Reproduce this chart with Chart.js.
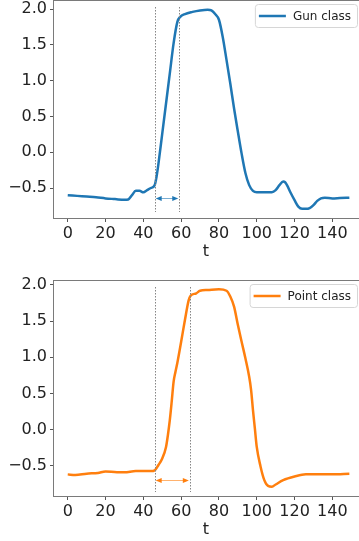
<!DOCTYPE html>
<html>
<head>
<meta charset="utf-8">
<script src="https://cdn.jsdelivr.net/npm/chart.js@4.4.1/dist/chart.umd.min.js"></script>
<style>
  html, body { margin: 0; padding: 0; background: #fff; overflow: hidden; }
  .box { position: absolute; left: 0; width: 359px; }
  #top { top: 0; height: 270px; }
  #bottom { top: 270px; height: 271px; }
</style>
</head>
<body>
<div class="box" id="top"><canvas id="gunChart"></canvas></div>
<div class="box" id="bottom"><canvas id="pointChart"></canvas></div>
<script>
// tick labels
const xTicks = [0, 20, 40, 60, 80, 100, 120, 140];
const yTicks = [-0.5, 0, 0.5, 1, 1.5, 2];

// Gun class
const gunT = [0, 5, 10, 15, 20, 25, 30, 32, 34, 36, 38, 40, 42, 44, 46, 47, 48, 50, 52, 54, 56, 58, 59.5, 62, 66, 70, 74, 76, 78, 80, 82, 84, 86, 88, 90, 92, 94, 96, 98, 100, 104, 108, 110, 112, 114, 115, 116, 118, 120, 122, 124, 126, 128, 130, 132, 134, 136, 140, 144, 149];
const gunV = [-0.60, -0.61, -0.62, -0.63, -0.645, -0.655, -0.665, -0.66, -0.60, -0.54, -0.54, -0.56, -0.53, -0.50, -0.46, -0.34, -0.16, 0.26, 0.68, 1.10, 1.52, 1.82, 1.89, 1.93, 1.96, 1.98, 1.99, 1.98, 1.93, 1.85, 1.61, 1.29, 0.96, 0.61, 0.29, -0.02, -0.29, -0.46, -0.54, -0.56, -0.56, -0.56, -0.53, -0.46, -0.41, -0.42, -0.46, -0.57, -0.67, -0.76, -0.79, -0.79, -0.78, -0.74, -0.68, -0.645, -0.635, -0.645, -0.64, -0.635];
const gunMarks = [46, 59];
const gunMarkRange = [-0.835, 2.028];
const gunArrowY = -0.635;

// Point class
const pointT = [0, 4, 10, 16, 20, 26, 30, 36, 40, 44, 46, 48, 50, 52, 53, 54, 55, 56, 57, 58, 60, 62, 64, 65, 68, 70, 74, 80, 84, 86, 88, 90, 92, 94, 96, 97, 98, 99, 100, 102, 104, 106, 108, 110, 114, 120, 126, 130, 140, 149];
const pointV = [-0.62, -0.63, -0.61, -0.60, -0.58, -0.59, -0.59, -0.575, -0.575, -0.575, -0.565, -0.49, -0.40, -0.24, -0.075, 0.13, 0.385, 0.66, 0.80, 0.925, 1.215, 1.515, 1.79, 1.85, 1.885, 1.92, 1.93, 1.94, 1.92, 1.84, 1.70, 1.45, 1.215, 0.985, 0.73, 0.55, 0.27, 0.017, -0.24, -0.51, -0.70, -0.78, -0.79, -0.76, -0.70, -0.65, -0.62, -0.62, -0.62, -0.61];
const pointMarks = [46, 64.6];
const pointMarkRange = [-0.864, 1.972];
const pointArrowY = -0.698;

const FONT = "'DejaVu Sans', sans-serif";
const TEXT = '#222';

// frame, dotted markers with arrow, and matplotlib-like legend
const extras = {
  id: 'extras',
  afterDatasetsDraw(chart, args, opts) {
    const { ctx, chartArea: a, scales: { x, y } } = chart;
    ctx.save();

    ctx.strokeStyle = '#858585';
    ctx.lineWidth = 1;
    ctx.setLineDash([1.5, 1.5]);
    opts.marks.forEach((t) => {
      const px = Math.round(x.getPixelForValue(t)) + 0.5;
      ctx.beginPath();
      ctx.moveTo(px, y.getPixelForValue(opts.range[1]));
      ctx.lineTo(px, y.getPixelForValue(opts.range[0]));
      ctx.stroke();
    });
    ctx.setLineDash([]);

    const x1 = x.getPixelForValue(opts.marks[0]) + 1;
    const x2 = x.getPixelForValue(opts.marks[1]) - 1;
    const ay = Math.round(y.getPixelForValue(opts.arrowY)) + 0.5;
    ctx.strokeStyle = opts.color;
    ctx.fillStyle = opts.color;
    ctx.globalAlpha = 0.6;
    ctx.beginPath();
    ctx.moveTo(x1 + 4, ay);
    ctx.lineTo(x2 - 4, ay);
    ctx.stroke();
    ctx.globalAlpha = 1;
    [[x1, 1], [x2, -1]].forEach(([hx, d]) => {
      ctx.beginPath();
      ctx.moveTo(hx, ay);
      ctx.lineTo(hx + d * 6, ay - 2.5);
      ctx.lineTo(hx + d * 6, ay + 2.5);
      ctx.closePath();
      ctx.fill();
    });

    ctx.strokeStyle = '#7a7a7a';
    ctx.strokeRect(a.left + 0.5, a.top + 0.5, a.width + 5, a.height - 1);

    ctx.font = '12px ' + FONT;
    const label = chart.data.datasets[0].label;
    const tw = ctx.measureText(label).width;
    const w = 5 + 25 + 8 + tw + 6;
    const h = 23;
    const right = a.right - 2;
    const left = right - w;
    const top = a.top + 4;
    ctx.fillStyle = 'rgba(255,255,255,0.8)';
    ctx.strokeStyle = '#d6d6d6';
    ctx.beginPath();
    ctx.roundRect(left + 0.5, top + 0.5, w, h, 3);
    ctx.fill();
    ctx.stroke();
    ctx.strokeStyle = opts.color;
    ctx.lineWidth = 2.5;
    ctx.beginPath();
    ctx.moveTo(left + 4, top + h / 2 + 0.5);
    ctx.lineTo(left + 31, top + h / 2 + 0.5);
    ctx.stroke();
    ctx.fillStyle = TEXT;
    ctx.textBaseline = 'middle';
    ctx.fillText(label, left + 38, top + h / 2 + 1);
    ctx.restore();
  }
};

function makeChart(id, t, v, cfg) {
  return new Chart(document.getElementById(id), {
    type: 'line',
    data: {
      datasets: [{
        label: cfg.label,
        data: t.map((tt, i) => ({ x: tt, y: v[i] })),
        borderColor: cfg.color,
        borderWidth: 2.5,
        pointRadius: 0,
        cubicInterpolationMode: 'monotone',
        fill: false
      }]
    },
    options: {
      responsive: true,
      maintainAspectRatio: false,
      animation: false,
      layout: { padding: { top: cfg.padTop, bottom: cfg.padBottom, left: 0, right: 0 } },
      plugins: {
        legend: { display: false },
        tooltip: { enabled: false },
        extras: { marks: cfg.marks, range: cfg.range, arrowY: cfg.arrowY, color: cfg.color }
      },
      scales: {
        x: {
          type: 'linear',
          min: -7.8,
          max: 154.1,
          afterBuildTicks: (s) => { s.ticks = xTicks.map((val) => ({ value: val })); },
          afterFit: (s) => { s.height = 42; s.paddingLeft = 0; s.paddingRight = 0; },
          ticks: { autoSkip: false, maxRotation: 0, padding: 2, color: TEXT, font: { family: FONT, size: 16 } },
          grid: { drawOnChartArea: false, tickLength: 3, color: '#555' },
          border: { display: false },
          title: { display: true, text: 't', padding: 0, color: TEXT, font: { family: FONT, size: 16 } }
        },
        y: {
          min: cfg.yMin,
          max: cfg.yMax,
          afterBuildTicks: (s) => { s.ticks = yTicks.map((val) => ({ value: val })); },
          afterFit: (s) => { s.width = 53; s.paddingTop = 0; s.paddingBottom = 0; },
          ticks: {
            padding: 3,
            color: TEXT,
            font: { family: FONT, size: 16 },
            callback: (val) => (val < 0 ? '\u2212' : '') + Math.abs(val).toFixed(1)
          },
          grid: { drawOnChartArea: false, tickLength: 3, color: '#555' },
          border: { display: false }
        }
      }
    },
    plugins: [extras]
  });
}

makeChart('gunChart', gunT, gunV, {
  label: 'Gun class', color: '#1f77b4', padTop: 0, padBottom: 9,
  yMin: -0.933, yMax: 2.126, marks: gunMarks, range: gunMarkRange, arrowY: gunArrowY
});
makeChart('pointChart', pointT, pointV, {
  label: 'Point class', color: '#ff7f0e', padTop: 10, padBottom: 2,
  yMin: -0.933, yMax: 2.069, marks: pointMarks, range: pointMarkRange, arrowY: pointArrowY
});
</script>
</body>
</html>
